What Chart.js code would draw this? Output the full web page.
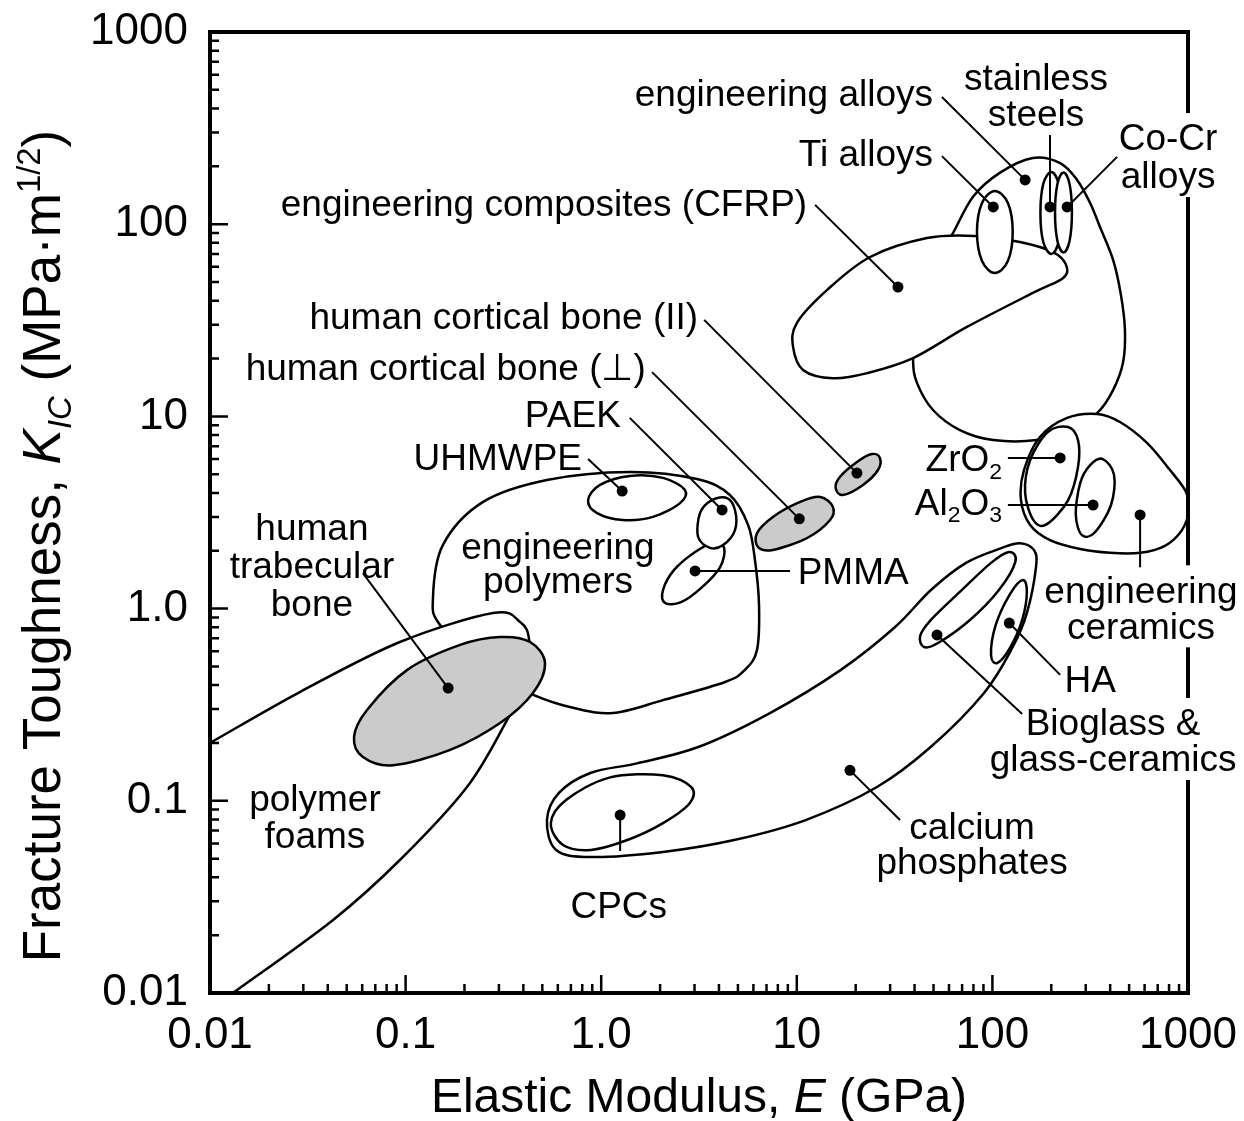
<!DOCTYPE html>
<html>
<head>
<meta charset="utf-8">
<title>Fracture toughness vs elastic modulus</title>
<script src="https://cdn.jsdelivr.net/npm/chart.js@4.4.0/dist/chart.umd.min.js"></script>
<style>
  html, body { margin: 0; padding: 0; background: #fff; }
  canvas { display: block; }
</style>
</head>
<body>
<canvas id="chart" width="1244" height="1121"></canvas>
<script>
// decades on both log axes and how they are printed
const xTickValues = [0.01, 0.1, 1, 10, 100, 1000];
const xTickLabels = ['0.01', '0.1', '1.0', '10', '100', '1000'];
const yTickValues = [0.01, 0.1, 1, 10, 100, 1000];
const yTickLabels = ['0.01', '0.1', '1.0', '10', '100', '1000'];

// property envelopes: [E (GPa), K_IC (MPa·m^1/2)] around each outline
const engPolymers = [[0.150, 0.822], [0.138, 1.135], [0.155, 2.14], [0.249, 3.59], [0.528, 4.67], [1.40, 5.14], [3.09, 4.72], [4.55, 3.90], [5.64, 2.72], [6.11, 1.79], [6.41, 1.04], [6.26, 0.610], [5.43, 0.480], [4.30, 0.415], [2.07, 0.334], [1.15, 0.286], [0.726, 0.304], [0.453, 0.355], [0.255, 0.480]];
const uhmwpe = [[0.857, 3.67], [0.986, 4.40], [1.40, 4.90], [2.07, 4.79], [2.68, 4.14], [2.53, 3.54], [1.84, 3.00], [1.29, 2.89], [0.953, 3.14]];
const pmma = [[4.25, 2.07], [4.05, 1.64], [3.27, 1.29], [2.56, 1.08], [2.12, 1.07], [2.07, 1.25], [2.36, 1.59], [3.02, 1.97], [3.73, 2.19]];
const paek = [[4.40, 3.76], [4.83, 3.26], [4.83, 2.56], [4.20, 2.14], [3.60, 2.07], [3.13, 2.36], [3.20, 3.14], [3.68, 3.67]];
const polymerFoams = [[0.00493, 0.133], [0.01, 0.200], [0.0288, 0.368], [0.0935, 0.670], [0.280, 0.948], [0.385, 0.851], [0.428, 0.687], [0.418, 0.425], [0.330, 0.263], [0.206, 0.118], [0.0935, 0.0492], [0.0426, 0.0240], [0.0131, 0.01], [0.00791, 0.0069]];
const trabecularBone = [[0.0545, 0.215], [0.0635, 0.297], [0.102, 0.480], [0.190, 0.647], [0.304, 0.711], [0.433, 0.670], [0.516, 0.521], [0.448, 0.364], [0.304, 0.254], [0.169, 0.184], [0.0863, 0.153], [0.0605, 0.169]];
const corticalPerp = [[15.3, 3.38], [14.8, 2.89], [11.3, 2.33], [7.55, 2.02], [6.34, 2.09], [6.26, 2.47], [7.55, 3.00], [10.4, 3.59], [13.2, 3.81]];
const corticalPar = [[26.6, 6.08], [26.0, 5.26], [21.8, 4.40], [17.2, 3.90], [15.8, 4.24], [16.6, 4.84], [20.3, 5.79], [24.2, 6.37]];
const engAlloys = [[161, 221], [222, 208], [271, 170], [316, 129], [355, 96.6], [414, 65.2], [454, 42.9], [476, 28.2], [466, 19.2], [414, 13.7], [343, 10.4], [249, 8.49], [169, 7.53], [101, 7.53], [68.2, 8.49], [49.7, 10.8], [41.2, 14.9], [39.3, 19.6], [40.2, 31.8], [48.0, 56.4], [62.1, 87.9], [79.6, 139], [109, 185]];
const cfrp = [[9.57, 23.0], [10.0, 30.6], [14.3, 45.5], [23.7, 67.5], [46.3, 84.7], [81.5, 86.9], [138, 80.8], [204, 71.6], [238, 61.4], [230, 52.5], [161, 43.9], [74.1, 29.2], [39.3, 20.1], [22.9, 16.8], [15.3, 15.8], [10.8, 17.4]];
const tiAlloys = [[103, 149], [120, 129], [127, 91.0], [120, 64.4], [103, 55.7], [88.5, 64.4], [83.4, 91.0], [88.5, 129]];
const stainless = [[200, 187], [218, 162], [225, 114], [218, 80.8], [200, 70.0], [182, 80.8], [176, 114], [182, 162]];
const coCr = [[231, 186], [248, 162], [255, 115], [248, 81.8], [231, 71.3], [215, 81.8], [209, 115], [215, 162]];
const calciumPhosphates = [[138, 2.19], [163, 2.02], [167, 1.64], [150, 0.948], [127, 0.631], [90.6, 0.364], [48.5, 0.191], [25.7, 0.118], [11.1, 0.0794], [4.78, 0.0625], [2.07, 0.0542], [0.887, 0.0510], [0.588, 0.0555], [0.528, 0.0794], [0.608, 0.110], [0.887, 0.140], [1.54, 0.157], [3.16, 0.191], [7.29, 0.286], [16.8, 0.480], [31.8, 0.802], [48.5, 1.25], [73.3, 1.73], [112, 2.07]];
const cpcs = [[0.553, 0.0766], [0.661, 0.101], [1.10, 0.132], [2.07, 0.136], [2.88, 0.118], [2.84, 0.0975], [2.07, 0.0766], [1.36, 0.0625], [0.887, 0.0555], [0.638, 0.0589]];
const bioglass = [[122, 1.97], [131, 1.75], [108, 1.25], [76.8, 0.873], [52.7, 0.662], [44.7, 0.631], [42.7, 0.720], [48.5, 0.873], [67.5, 1.21], [98.4, 1.73]];
const hydroxyapatite = [[143, 1.41], [150, 1.22], [142, 0.873], [123, 0.624], [106, 0.521], [98.4, 0.574], [104, 0.822], [123, 1.19]];
const engCeramics = [[241, 9.82], [343, 10.3], [449, 9.35], [617, 7.28], [809, 5.26], [977, 4.05], [1012, 3.26], [931, 2.56], [762, 2.12], [569, 1.95], [399, 1.95], [281, 2.04], [197, 2.27], [156, 2.72], [140, 3.67], [145, 5.26], [175, 7.82]];
const zirconia = [[244, 8.81], [274, 7.53], [274, 5.45], [244, 3.67], [190, 2.75], [163, 2.86], [147, 3.99], [156, 5.93], [192, 8.30]];
const alumina = [[367, 6.00], [419, 4.95], [404, 3.46], [335, 2.50], [287, 2.41], [267, 3.07], [281, 4.50], [316, 5.58]];

// representative point of each labelled material
const materials = ['engineering alloys', 'Ti alloys', 'stainless steels', 'Co-Cr alloys', 'engineering composites (CFRP)',
  'human cortical bone (II)', 'human cortical bone (⊥)', 'PAEK', 'UHMWPE', 'PMMA', 'human trabecular bone',
  'ZrO2', 'Al2O3', 'engineering ceramics', 'HA', 'Bioglass & glass-ceramics', 'calcium phosphates', 'CPCs'];
const markerE = [147, 101, 197, 241, 32.9, 20.3, 10.3, 4.15, 1.28, 3.02, 0.165, 222, 327, 569, 122, 52.1, 18.7, 1.25];
const markerK = [170, 123, 123, 123, 47.1, 5.07, 2.93, 3.26, 4.09, 1.57, 0.386, 6.08, 3.46, 3.07, 0.841, 0.729, 0.144, 0.0843];

const FONT = '"Liberation Sans", Arial, Helvetica, sans-serif';
const GREY = '#cbcbcb';

// drawn in this order, later outlines cover earlier ones
const regions = [
  { pts: engPolymers }, { pts: uhmwpe }, { pts: pmma }, { pts: paek },
  { pts: polymerFoams }, { pts: trabecularBone, fill: GREY },
  { pts: corticalPerp, fill: GREY }, { pts: corticalPar, fill: GREY },
  { pts: engAlloys }, { pts: cfrp }, { pts: tiAlloys }, { pts: stainless }, { pts: coCr },
  { pts: calciumPhosphates }, { pts: cpcs }, { pts: bioglass }, { pts: hydroxyapatite },
  { pts: engCeramics }, { pts: zirconia }, { pts: alumina }
];

// text placement (data coordinates), optional leader to a material's dot
const notes = [
  { text: ['engineering alloys'], at: [49.7, 482], align: 'right', from: [55.2, 459], to: 'engineering alloys' },
  { text: ['stainless', 'steels'], at: [167, 583], gap: 36, from: [197, 291], to: 'stainless steels' },
  { text: ['Co-Cr', 'alloys'], at: [791, 284], gap: 38, from: [434, 224], to: 'Co-Cr alloys' },
  { text: ['Ti alloys'], at: [49.7, 236], align: 'right', from: [55.2, 226], to: 'Ti alloys' },
  { text: ['engineering composites (CFRP)'], at: [11.3, 130], align: 'right', from: [12.4, 126], to: 'engineering composites (CFRP)' },
  { text: ['human cortical bone (II)'], at: [3.13, 33.3], align: 'right', from: [3.36, 31.8], to: 'human cortical bone (II)' },
  { text: ['human cortical bone (⊥)'], at: [1.69, 18.1], align: 'right', from: [1.82, 17.0], to: 'human cortical bone (⊥)' },
  { text: ['PAEK'], at: [1.26, 10.3], align: 'right', from: [1.40, 9.82], to: 'PAEK' },
  { text: ['UHMWPE'], at: [0.798, 6.15], align: 'right', from: [0.857, 6.00], to: 'UHMWPE' },
  { text: ['engineering', 'polymers'], at: [0.601, 2.12], gap: 34 },
  { text: ['human', 'trabecular', 'bone'], at: [0.0332, 2.66], gap: 38, from: [0.0605, 1.53], to: 'human trabecular bone' },
  { text: ['polymer', 'foams'], at: [0.0344, 0.104], gap: 37 },
  { text: ['PMMA'], at: [10.1, 1.57], align: 'left', from: [9.23, 1.57], to: 'PMMA' },
  { text: ['ZrO_2'], at: [112, 6.08], align: 'right', from: [120, 6.08], to: 'ZrO2' },
  { text: ['Al_2O_3'], at: [112, 3.60], align: 'right', from: [120, 3.46], to: 'Al2O3' },
  { text: ['engineering', 'ceramics'], at: [575, 1.26], gap: 36, from: [569, 1.64], to: 'engineering ceramics' },
  { text: ['HA'], at: [316, 0.430], from: [222, 0.452], to: 'HA' },
  { text: ['Bioglass &', 'glass-ceramics'], at: [414, 0.257], gap: 36, from: [142, 0.283], to: 'Bioglass & glass-ceramics' },
  { text: ['calcium', 'phosphates'], at: [78.7, 0.0740], gap: 35, from: [33.7, 0.0794], to: 'calcium phosphates' },
  { text: ['CPCs'], at: [1.23, 0.0289], from: [1.25, 0.0548], to: 'CPCs' }
];

const NOTE_SIZE = 37;

function isDecade(v) {
  const l = Math.log10(v);
  return Math.abs(l - Math.round(l)) < 1e-9;
}

// 1..9 times each decade for the minor ticks
function logTicks(decades) {
  const out = [];
  decades.forEach((d, i) => {
    const steps = i === decades.length - 1 ? 1 : 9;
    for (let k = 1; k <= steps; k++) out.push({ value: d * k });
  });
  return out;
}

function labelFor(values, labels) {
  return v => {
    const i = values.findIndex(d => Math.abs(d - v) / d < 1e-9);
    return i >= 0 ? labels[i] : '';
  };
}

// keep the plot box exactly where the axes say, no extra label padding
function fixBox(size) {
  return s => {
    if (s.isHorizontal()) s.height = size; else s.width = size;
    s.paddingTop = s.paddingBottom = s.paddingLeft = s.paddingRight = 0;
  };
}

// closed Catmull-Rom curve through the given pixel points
function traceClosed(ctx, pts) {
  const n = pts.length;
  ctx.beginPath();
  ctx.moveTo(pts[0][0], pts[0][1]);
  for (let i = 0; i < n; i++) {
    const p0 = pts[(i - 1 + n) % n], p1 = pts[i], p2 = pts[(i + 1) % n], p3 = pts[(i + 2) % n];
    ctx.bezierCurveTo(
      p1[0] + (p2[0] - p0[0]) / 6, p1[1] + (p2[1] - p0[1]) / 6,
      p2[0] - (p3[0] - p1[0]) / 6, p2[1] - (p3[1] - p1[1]) / 6,
      p2[0], p2[1]);
  }
  ctx.closePath();
}

// "ZrO_2" -> ZrO with subscript 2
function parseLine(str) {
  const segs = [];
  let buf = '';
  for (let i = 0; i < str.length; i++) {
    if (str[i] === '_' && i + 1 < str.length) {
      if (buf) segs.push({ t: buf });
      segs.push({ t: str[i + 1], sub: true });
      buf = '';
      i++;
    } else buf += str[i];
  }
  if (buf) segs.push({ t: buf });
  return segs;
}

function fontFor(s, size) {
  return (s.italic ? 'italic ' : '') + ((s.sub || s.sup) ? size * 0.62 : size) + 'px ' + FONT;
}

function richWidth(ctx, segs, size) {
  let w = 0;
  segs.forEach(s => { ctx.font = fontFor(s, size); s.w = ctx.measureText(s.t).width; w += s.w; });
  return w;
}

function drawRich(ctx, segs, x, baseline, align, size) {
  const w = richWidth(ctx, segs, size);
  let cx = align === 'right' ? x - w : align === 'left' ? x : x - w / 2;
  ctx.textAlign = 'left';
  ctx.textBaseline = 'alphabetic';
  segs.forEach(s => {
    ctx.font = fontFor(s, size);
    const dy = s.sub ? size * 0.2 : s.sup ? -size * 0.38 : 0;
    ctx.fillText(s.t, cx, baseline + dy);
    cx += s.w;
  });
}

const ashbyPlugin = {
  id: 'ashby',
  beforeDatasetsDraw(chart) {
    const { ctx, chartArea: a, scales: { x, y } } = chart;
    ctx.save();
    ctx.beginPath();
    ctx.rect(a.left, a.top, a.right - a.left, a.bottom - a.top);
    ctx.clip();
    chart.data.datasets.forEach((ds, i) => {
      if (!ds.outline) return;
      const pts = chart.getDatasetMeta(i).data.map(p => [p.x, p.y]);
      traceClosed(ctx, pts);
      ctx.fillStyle = ds.outlineFill;
      ctx.fill();
      ctx.lineWidth = 2.5;
      ctx.strokeStyle = '#000';
      ctx.lineJoin = 'round';
      ctx.stroke();
    });
    // leader lines from text to dots
    ctx.lineWidth = 2;
    ctx.strokeStyle = '#000';
    notes.forEach(n => {
      if (!n.from) return;
      const k = materials.indexOf(n.to);
      ctx.beginPath();
      ctx.moveTo(x.getPixelForValue(n.from[0]), y.getPixelForValue(n.from[1]));
      ctx.lineTo(x.getPixelForValue(markerE[k]), y.getPixelForValue(markerK[k]));
      ctx.stroke();
    });
    ctx.restore();
  },
  afterDraw(chart) {
    const { ctx, chartArea: a, scales: { x, y } } = chart;
    ctx.save();
    // inward tick marks on the bottom and left axes
    ctx.strokeStyle = '#000';
    ctx.lineWidth = 2.5;
    ctx.beginPath();
    x.ticks.forEach(t => {
      const px = x.getPixelForValue(t.value);
      ctx.moveTo(px, a.bottom);
      ctx.lineTo(px, a.bottom - (isDecade(t.value) ? 18 : 9));
    });
    y.ticks.forEach(t => {
      const py = y.getPixelForValue(t.value);
      ctx.moveTo(a.left, py);
      ctx.lineTo(a.left + (isDecade(t.value) ? 18 : 9), py);
    });
    ctx.stroke();
    ctx.lineWidth = 4;
    ctx.strokeRect(a.left, a.top, a.right - a.left, a.bottom - a.top);

    // material labels; where one runs over the right frame the frame is broken behind it
    ctx.fillStyle = '#000';
    notes.forEach(n => {
      const px = x.getPixelForValue(n.at[0]);
      const py = y.getPixelForValue(n.at[1]);
      const gap = n.gap || 36;
      const lines = n.text.map(parseLine);
      const widest = Math.max(...lines.map(l => richWidth(ctx, l, NOTE_SIZE)));
      const align = n.align || 'center';
      const x0 = align === 'right' ? px - widest : align === 'left' ? px : px - widest / 2;
      if (x0 < a.right && x0 + widest > a.right) {
        ctx.fillStyle = '#fff';
        ctx.fillRect(a.right - 4, py - 24, 8, (lines.length - 1) * gap + 46);
        ctx.fillStyle = '#000';
      }
      lines.forEach((segs, j) => {
        drawRich(ctx, segs, px, py + j * gap + NOTE_SIZE * 0.36, align, NOTE_SIZE);
      });
    });

    // axis titles
    drawRich(ctx, [{ t: 'Elastic Modulus, ' }, { t: 'E', italic: true }, { t: ' (GPa)' }],
      (a.left + a.right) / 2, 1112, 'center', 48);
    ctx.translate(60, 546);
    ctx.rotate(-Math.PI / 2);
    drawRich(ctx, [{ t: 'Fracture Toughness, ' }, { t: 'K', italic: true }, { t: 'IC', italic: true, sub: true },
      { t: ' (MPa·m' }, { t: '1/2', sup: true }, { t: ')' }], 0, 0, 'center', 53);
    ctx.restore();
  }
};

const datasets = regions.map(r => ({
  data: r.pts.map(([e, k]) => ({ x: e, y: k })),
  outline: true,
  outlineFill: r.fill || '#ffffff',
  pointRadius: 0,
  pointHoverRadius: 0
}));
datasets.push({
  data: materials.map((m, i) => ({ x: markerE[i], y: markerK[i] })),
  pointRadius: 5.5,
  pointBackgroundColor: '#000',
  pointBorderWidth: 0
});

Chart.defaults.font.family = FONT;
Chart.defaults.color = '#000';

new Chart(document.getElementById('chart'), {
  type: 'scatter',
  data: { datasets },
  options: {
    responsive: false,
    animation: false,
    events: [],
    devicePixelRatio: 1,
    layout: { padding: { top: 32, right: 56, bottom: 0, left: 0 } },
    plugins: { legend: { display: false }, tooltip: { enabled: false } },
    scales: {
      x: {
        type: 'logarithmic',
        min: 0.01,
        max: 1000,
        afterBuildTicks: s => { s.ticks = logTicks(xTickValues); },
        afterFit: fixBox(128),
        grid: { display: false, drawTicks: false },
        border: { display: false },
        ticks: { callback: labelFor(xTickValues, xTickLabels), autoSkip: false, maxRotation: 0, minRotation: 0,
          padding: 16, font: { size: 44 }, color: '#000' }
      },
      y: {
        type: 'logarithmic',
        min: 0.01,
        max: 1000,
        afterBuildTicks: s => { s.ticks = logTicks(yTickValues); },
        afterFit: fixBox(210),
        grid: { display: false, drawTicks: false },
        border: { display: false },
        ticks: { callback: labelFor(yTickValues, yTickLabels), autoSkip: false,
          padding: 22, font: { size: 44 }, color: '#000' }
      }
    }
  },
  plugins: [ashbyPlugin]
});
</script>
</body>
</html>
